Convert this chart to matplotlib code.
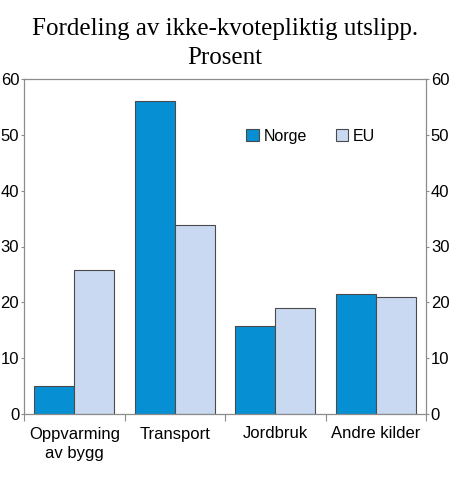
import numpy as np
import matplotlib
matplotlib.use("Agg")
import matplotlib.pyplot as plt

# Data
kategorier = ["Oppvarming\nav bygg", "Transport", "Jordbruk", "Andre kilder"]
norge = [5.1, 56.1, 15.8, 21.5]
eu = [25.8, 33.9, 18.9, 21.0]
y_ticks = [0, 10, 20, 30, 40, 50, 60]

farge_norge = "#0690D3"
farge_eu = "#C9D9F1"
kant = "#4A4A4A"

plt.rcParams["font.family"] = ["Liberation Sans", "DejaVu Sans"]

fig = plt.figure(figsize=(4.5, 4.78), dpi=100)
ax = fig.add_axes([24 / 450, 1 - 414 / 478, 402 / 450, 335 / 478])

x = np.arange(len(kategorier))
bredde = 0.4
ax.bar(x - bredde / 2, norge, bredde, color=farge_norge, edgecolor=kant,
       linewidth=0.8, label="Norge")
ax.bar(x + bredde / 2, eu, bredde, color=farge_eu, edgecolor=kant,
       linewidth=0.8, label="EU")

ax.set_xlim(-0.5, len(kategorier) - 0.5)
ax.set_ylim(0, 60)
ax.set_yticks(y_ticks)

# Akser
for side in ["left", "right", "top", "bottom"]:
    ax.spines[side].set_color("#8C8C8C")
    ax.spines[side].set_linewidth(0.9)

ax.tick_params(axis="y", which="both", direction="out", length=2.5,
               color="#8C8C8C", labelsize=12, left=True, right=True,
               labelleft=True, labelright=True, pad=1)

# Streker mellom kategoriene, etiketter i midten
ax.set_xticks(np.arange(-0.5, len(kategorier)), minor=False)
ax.set_xticklabels([])
ax.set_xticks(x, minor=True)
for t in ax.set_xticklabels(kategorier, minor=True, fontsize=12):
    t.set_linespacing(1.35)
ax.tick_params(axis="x", which="major", direction="out", length=5,
               color="#8C8C8C")
ax.tick_params(axis="x", which="minor", length=0, pad=9)

ax.legend(loc="upper left", bbox_to_anchor=(0.536, 0.871), ncol=2,
          frameon=False, fontsize=11.5, handlelength=0.8, handleheight=0.8,
          handletextpad=0.3, columnspacing=1.8, borderaxespad=0)

fig.text(0.5, 0.962, "Fordeling av ikke-kvotepliktig utslipp.\nProsent",
         ha="center", va="top", fontsize=18, family="Liberation Serif",
         linespacing=1.4)

fig.savefig("out.png", dpi=100)
